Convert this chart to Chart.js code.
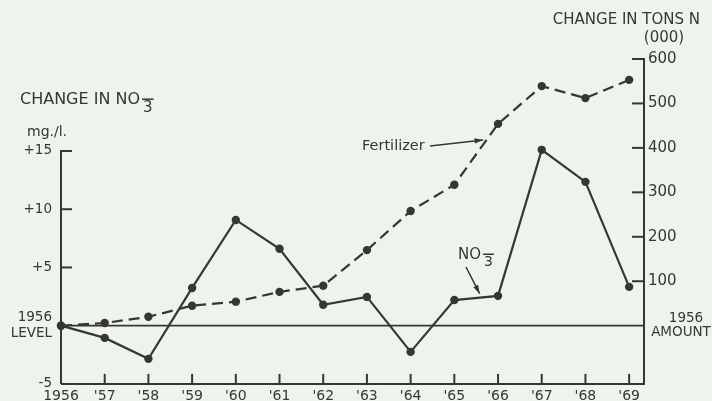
<!DOCTYPE html>
<html>
<head>
<meta charset="utf-8">
<script src="https://cdn.jsdelivr.net/npm/chart.js@4"></script>
<style>
  html, body { margin: 0; padding: 0; background: #eff3ed; }
  #wrap { width: 712px; height: 401px; }
</style>
</head>
<body>
<div id="wrap"><canvas id="c" width="712" height="401"></canvas></div>
<script>
// ---- data ----
const years = [1956, 1957, 1958, 1959, 1960, 1961, 1962, 1963, 1964, 1965, 1966, 1967, 1968, 1969];
const yearLabels = ['1956', "'57", "'58", "'59", "'60", "'61", "'62", "'63", "'64", "'65", "'66", "'67", "'68", "'69"];
// change in NO3 (mg/l) relative to 1956 level
const no3Change = [0, -1.05, -2.85, 3.24, 9.08, 6.6, 1.8, 2.47, -2.25, 2.2, 2.56, 15.1, 12.35, 3.33];
// change in fertilizer N (thousand tons) relative to 1956 amount
const fertChange = [0, 6, 20, 45, 54, 76, 90, 170, 258, 317, 454, 539, 512, 553];
const leftTickValues = [-5, 0, 5, 10, 15];
const leftTicks = [5, 10, 15];
const rightTicks = [100, 200, 300, 400, 500, 600];

const INK = '#363636';
const FONT = '"DejaVu Sans", sans-serif';

function drawNO3(ctx, x, y, size) {
  // "NO" followed by a lowered "3" with a bar over it
  ctx.save();
  ctx.font = size + 'px ' + FONT;
  ctx.textBaseline = 'middle';
  ctx.textAlign = 'left';
  ctx.fillText('NO', x, y);
  const w = ctx.measureText('NO').width;
  const s3 = Math.round(size * 0.95);
  ctx.font = s3 + 'px ' + FONT;
  const w3 = ctx.measureText('3').width;
  ctx.lineWidth = 1.5;
  ctx.beginPath();
  ctx.moveTo(x + w + 2, y - size * 0.05);
  ctx.lineTo(x + w + 4 + w3, y - size * 0.05);
  ctx.stroke();
  ctx.fillText('3', x + w + 3, y + size * 0.5);
  ctx.restore();
}

function arrow(ctx, x1, y1, x2, y2) {
  ctx.save();
  ctx.lineWidth = 1.5;
  ctx.beginPath();
  ctx.moveTo(x1, y1);
  ctx.lineTo(x2, y2);
  ctx.stroke();
  const a = Math.atan2(y2 - y1, x2 - x1);
  const L = 9, spread = 0.3;
  ctx.beginPath();
  ctx.moveTo(x2, y2);
  ctx.lineTo(x2 - L * Math.cos(a - spread), y2 - L * Math.sin(a - spread));
  ctx.lineTo(x2 - L * Math.cos(a + spread), y2 - L * Math.sin(a + spread));
  ctx.closePath();
  ctx.fill();
  ctx.restore();
}

const axesPlugin = {
  id: 'axesPlugin',
  beforeDatasetsDraw(chart) {
    const ctx = chart.ctx;
    const { x, y, y2 } = chart.scales;
    const ca = chart.chartArea;
    ctx.save();
    ctx.strokeStyle = INK;
    ctx.lineCap = 'butt';
    // zero line (1956 level / amount)
    ctx.lineWidth = 1.6;
    const y0 = y.getPixelForValue(0);
    ctx.beginPath();
    ctx.moveTo(ca.left, y0);
    ctx.lineTo(ca.right, y0);
    ctx.stroke();
    ctx.lineWidth = 2;
    // bottom axis
    const yb = y.getPixelForValue(-5);
    ctx.beginPath();
    ctx.moveTo(ca.left, yb);
    ctx.lineTo(ca.right, yb);
    ctx.stroke();
    // left axis up to +15
    ctx.beginPath();
    ctx.moveTo(ca.left, yb);
    ctx.lineTo(ca.left, y.getPixelForValue(15));
    ctx.stroke();
    leftTicks.forEach(v => {
      const p = y.getPixelForValue(v);
      ctx.beginPath();
      ctx.moveTo(ca.left - 1, p);
      ctx.lineTo(ca.left + 11, p);
      ctx.stroke();
    });
    // right axis up to 600
    ctx.beginPath();
    ctx.moveTo(ca.right, yb + 1);
    ctx.lineTo(ca.right, y2.getPixelForValue(600));
    ctx.stroke();
    rightTicks.forEach(v => {
      const p = y2.getPixelForValue(v);
      ctx.beginPath();
      ctx.moveTo(ca.right + 1, p);
      ctx.lineTo(ca.right - 12, p);
      ctx.stroke();
    });
    // x ticks (inside, upward)
    years.slice(1).forEach(v => {
      const p = x.getPixelForValue(v);
      ctx.beginPath();
      ctx.moveTo(p, yb);
      ctx.lineTo(p, yb - 10);
      ctx.stroke();
    });
    ctx.restore();
  },
  afterDraw(chart) {
    const ctx = chart.ctx;
    const { x, y, y2 } = chart.scales;
    ctx.save();
    ctx.fillStyle = INK;
    ctx.strokeStyle = INK;
    // left title
    ctx.font = '16px ' + FONT;
    ctx.textBaseline = 'middle';
    ctx.textAlign = 'left';
    ctx.fillText('CHANGE IN ', 20, 100);
    const wc = ctx.measureText('CHANGE IN ').width;
    drawNO3(ctx, 20 + wc, 100, 16);
    ctx.font = '14px ' + FONT;
    ctx.fillText('mg./l.', 27, 132);
    // right title
    ctx.font = '15px ' + FONT;
    ctx.textAlign = 'right';
    ctx.fillText('CHANGE IN TONS N', 700, 20);
    ctx.textAlign = 'center';
    ctx.fillText('(000)', 664, 38);
    // right zero label
    const y0 = y2.getPixelForValue(0);
    ctx.font = '13.5px ' + FONT;
    ctx.fillText('1956', 686, y0 - 7);
    ctx.fillText('AMOUNT', 681, y0 + 7);
    // Fertilizer label + arrow
    ctx.font = '14.5px ' + FONT;
    ctx.textAlign = 'left';
    ctx.fillText('Fertilizer', 362, 146);
    arrow(ctx, 430, 146, x.getPixelForValue(1965.66), y2.getPixelForValue(418));
    // NO3 label + arrow
    drawNO3(ctx, 458, 255, 15);
    arrow(ctx, 466, 267, x.getPixelForValue(1965.58), y.getPixelForValue(2.75));
    ctx.restore();
  }
};

new Chart(document.getElementById('c'), {
  type: 'line',
  data: {
    datasets: [
      {
        label: 'NO3',
        data: years.map((yr, i) => ({ x: yr, y: no3Change[i] })),
        yAxisID: 'y',
        borderColor: INK,
        backgroundColor: INK,
        borderWidth: 2.2,
        pointRadius: 4.2,
        pointBorderWidth: 0,
        pointBackgroundColor: INK,
        tension: 0,
        clip: false
      },
      {
        label: 'Fertilizer',
        data: years.map((yr, i) => ({ x: yr, y: fertChange[i] })),
        yAxisID: 'y2',
        borderColor: INK,
        backgroundColor: INK,
        borderWidth: 2.2,
        borderDash: [11, 6],
        pointRadius: 4.2,
        pointBorderWidth: 0,
        pointBackgroundColor: INK,
        tension: 0,
        clip: false
      }
    ]
  },
  options: {
    responsive: false,
    animation: false,
    devicePixelRatio: 1,
    layout: { padding: { top: 59, left: 0, right: 0, bottom: 0 } },
    plugins: { legend: { display: false }, tooltip: { enabled: false }, title: { display: false } },
    scales: {
      x: {
        type: 'linear',
        min: 1956,
        max: 1969.34,
        grid: { display: false, drawTicks: false },
        border: { display: false },
        afterFit(s) { s.height = 17; },
        afterBuildTicks(s) { s.ticks = years.map(v => ({ value: v })); },
        ticks: {
          autoSkip: false,
          maxRotation: 0,
          padding: 4,
          color: INK,
          font: { family: FONT, size: 14 },
          callback(v) {
            const i = years.indexOf(v);
            return i >= 0 ? yearLabels[i] : '';
          }
        }
      },
      y: {
        position: 'left',
        min: -5,
        max: 22.9,
        grid: { display: false, drawTicks: false },
        border: { display: false },
        afterFit(s) { s.width = 61; },
        afterBuildTicks(s) { s.ticks = leftTickValues.map(v => ({ value: v })); },
        ticks: {
          padding: 9,
          color: INK,
          font: { family: FONT, size: 13.5 },
          callback(v) {
            if (v === 0) return ['1956', 'LEVEL'];
            if (v === -5) return '-5';
            return '+' + v;
          }
        }
      },
      y2: {
        position: 'right',
        min: -131,
        max: 600,
        grid: { display: false, drawTicks: false },
        border: { display: false },
        afterFit(s) { s.width = 68; },
        afterBuildTicks(s) { s.ticks = rightTicks.map(v => ({ value: v })); },
        ticks: {
          padding: 4,
          color: INK,
          font: { family: FONT, size: 15 },
          callback(v) { return String(v); }
        }
      }
    }
  },
  plugins: [axesPlugin]
});
</script>
</body>
</html>
